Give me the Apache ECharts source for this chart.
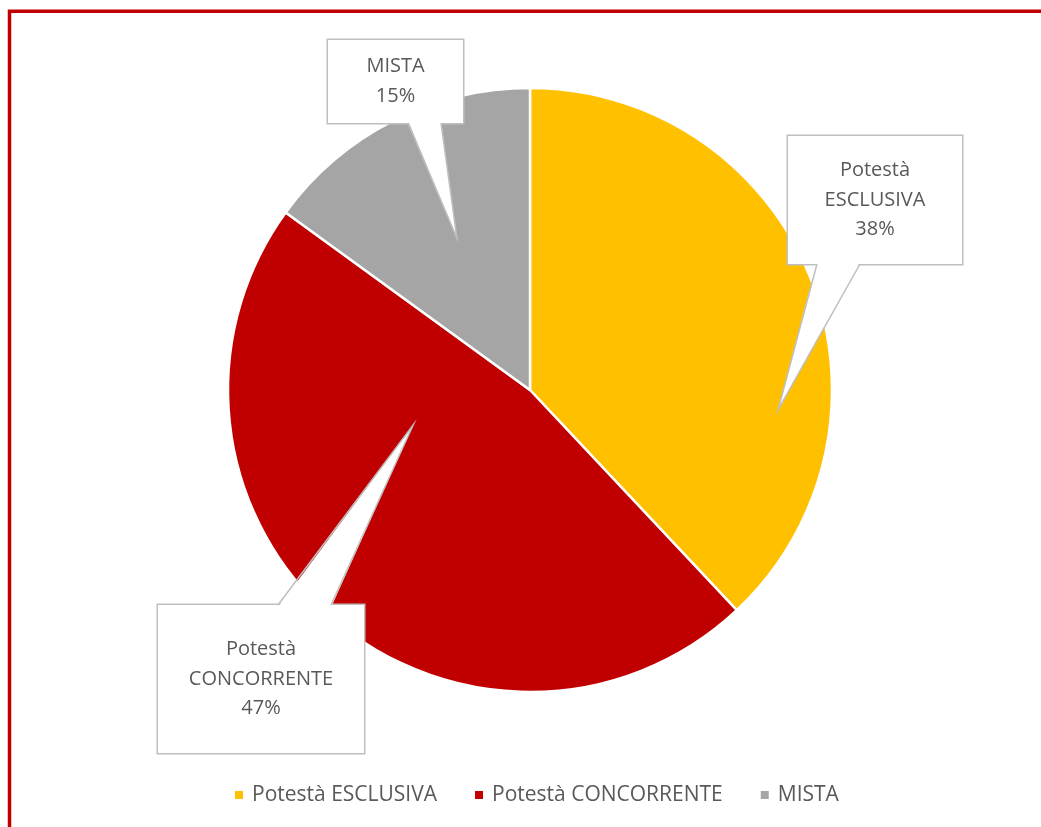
<!DOCTYPE html>
<html>
<head>
<meta charset="utf-8">
<script src="https://cdn.jsdelivr.net/npm/echarts@6/dist/echarts.min.js"></script>
<style>
html,body{margin:0;padding:0;background:#fff;}
#chart{width:1041px;height:827px;}
</style>
</head>
<body>
<div id="chart"></div>
<script>
// ---- data ----
const categories = ['Potestà ESCLUSIVA', 'Potestà CONCORRENTE', 'MISTA'];
const values = [38, 47, 15];
const colors = ['#FFC000', '#C00000', '#A5A5A5'];

// ---- layout / style ----
const CENTER = [530, 390];
const RADIUS = 302;
const FONT = '"Open Sans", "Noto Sans", sans-serif';
const TEXT_COLOR = '#595959';
const BOX_BORDER = '#BFBFBF';
const LINE_H = 29.5;
// callout boxes (center, size) and pointer (base x on box edge, tip in polar about pie center)
const CALLOUTS = [
  { cx: 875, cy: 200, w: 174, h: 128, lines: 3, edge: 'bottom', b1: 817, b2: 860, tipAngle: 94.6, tipR: 0.824 },
  { cx: 261, cy: 679, w: 206, h: 148, lines: 3, edge: 'top', b1: 278, b2: 331, tipAngle: 253.3, tipR: 0.404 },
  { cx: 395.5, cy: 81.5, w: 135, h: 83, lines: 2, edge: 'bottom', b1: 408, b2: 441, tipAngle: 334.3, tipR: 0.558 }
];

function pointerGraphics() {
  const out = [];
  CALLOUTS.forEach(function (c) {
    const a = c.tipAngle * Math.PI / 180;
    const tip = [CENTER[0] + Math.sin(a) * RADIUS * c.tipR, CENTER[1] - Math.cos(a) * RADIUS * c.tipR];
    const edgeY = c.edge === 'bottom' ? c.cy + c.h / 2 : c.cy - c.h / 2;
    const inward = c.edge === 'bottom' ? -2.5 : 2.5;
    out.push({
      type: 'polygon', z: 100,
      shape: { points: [[c.b1, edgeY + inward], tip, [c.b2, edgeY + inward]] },
      style: { fill: '#ffffff', stroke: null }
    });
    out.push({
      type: 'polyline', z: 101,
      shape: { points: [[c.b1, edgeY], tip, [c.b2, edgeY]] },
      style: { stroke: BOX_BORDER, lineWidth: 1.5, fill: null }
    });
  });
  return out;
}

const chart = echarts.init(document.getElementById('chart'), null, { renderer: 'canvas' });

const seriesData = categories.map(function (name, i) {
  const c = CALLOUTS[i];
  const pv = (c.h - c.lines * LINE_H) / 2;
  return {
    name: name,
    value: values[i],
    itemStyle: { color: colors[i] },
    label: { width: c.w, padding: [pv, 0, pv, 0] }
  };
});

const option = {
  animation: false,
  backgroundColor: '#ffffff',
  textStyle: { fontFamily: FONT },
  legend: {
    data: categories,
    left: 228,
    top: 778,
    icon: 'rect',
    itemWidth: 10,
    itemHeight: 10,
    itemGap: 36,
    selectedMode: false,
    textStyle: { color: TEXT_COLOR, fontSize: 21, fontFamily: FONT, lineHeight: 24, padding: [0, 0, 0, 3] }
  },
  graphic: [
    {
      type: 'rect', z: 200,
      shape: { x: 9.5, y: 11.3, width: 1200, height: 1000 },
      style: { fill: null, stroke: '#C00000', lineWidth: 3.5 }
    }
  ].concat(pointerGraphics()),
  series: [{
    type: 'pie',
    center: CENTER,
    radius: RADIUS,
    startAngle: 90,
    clockwise: true,
    avoidLabelOverlap: false,
    selectedMode: false,
    emphasis: { disabled: true },
    itemStyle: { borderColor: '#ffffff', borderWidth: 2.5 },
    label: {
      show: true,
      position: 'outside',
      formatter: function (p) {
        return p.name.replace(' ', '\n') + '\n' + Math.round(p.percent) + '%';
      },
      color: TEXT_COLOR,
      fontSize: 20,
      fontFamily: FONT,
      lineHeight: LINE_H,
      align: 'center',
      backgroundColor: '#ffffff',
      borderColor: BOX_BORDER,
      borderWidth: 1.5
    },
    labelLine: { show: false },
    labelLayout: function (params) {
      const c = CALLOUTS[params.dataIndex];
      return { x: c.cx, y: c.cy, align: 'center', verticalAlign: 'middle' };
    },
    data: seriesData
  }]
};

chart.setOption(option);
</script>
</body>
</html>
